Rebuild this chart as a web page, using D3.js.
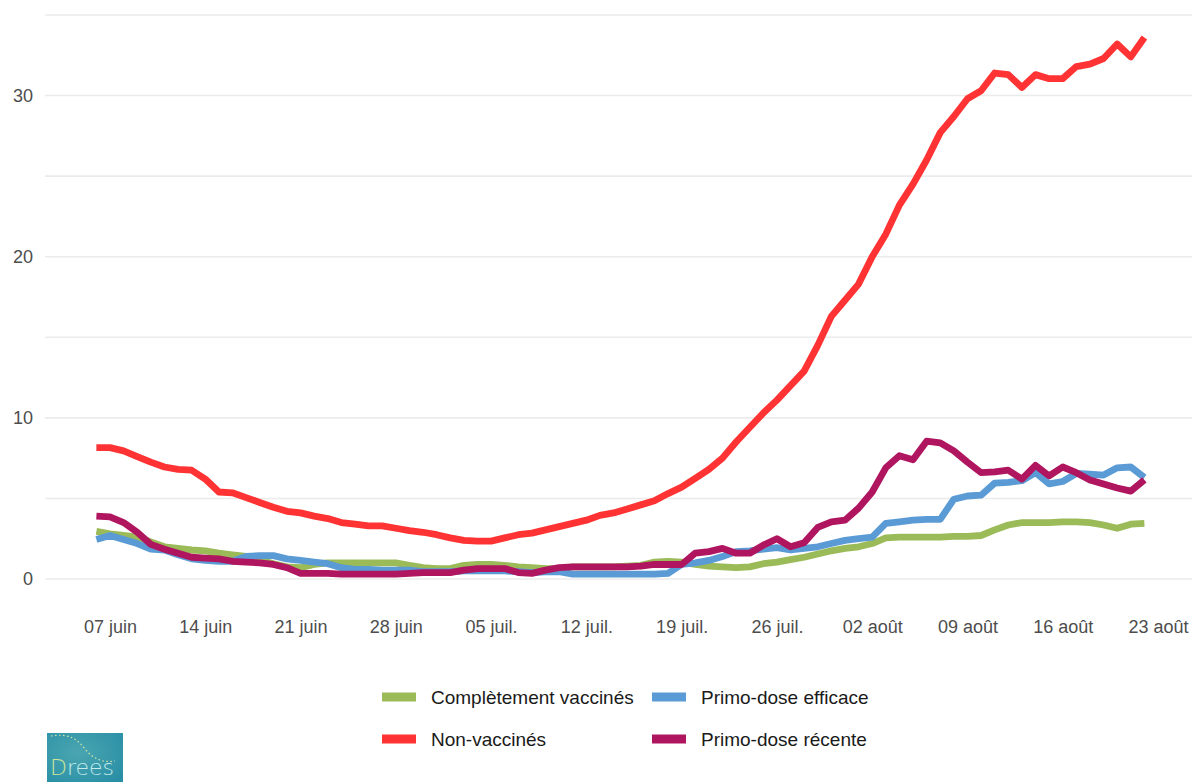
<!DOCTYPE html>
<html>
<head>
<meta charset="utf-8">
<script src="https://cdn.jsdelivr.net/npm/d3@7"></script>
<style>
  html, body { margin: 0; padding: 0; background: #fff; }
  svg { display: block; font-family: "Liberation Sans", Arial, sans-serif; }
</style>
</head>
<body>
<div id="chart"></div>
<script>
// daily values from 6 June to 22 August 2021
const firstDay = "2021-06-06";

const completementVaccines = [
  2.95, 2.8, 2.7, 2.6, 2.3, 2.0, 1.9, 1.8, 1.75, 1.6, 1.5, 1.4, 1.2, 0.95, 0.75, 0.7,
  0.9, 1.0, 1.0, 1.0, 1.0, 1.0, 1.0, 0.85, 0.7, 0.65, 0.65, 0.85, 0.9, 0.9, 0.85, 0.75,
  0.7, 0.65, 0.65, 0.75, 0.75, 0.75, 0.75, 0.8, 0.85, 1.05, 1.1, 1.05, 0.9, 0.8, 0.75,
  0.7, 0.75, 0.95, 1.05, 1.2, 1.35, 1.55, 1.75, 1.9, 2.0, 2.2, 2.55, 2.6, 2.6, 2.6, 2.6,
  2.65, 2.65, 2.7, 3.05, 3.35, 3.5, 3.5, 3.5, 3.55, 3.55, 3.5, 3.35, 3.15, 3.4, 3.45
];

const nonVaccines = [
  8.15, 8.15, 7.95, 7.6, 7.25, 6.95, 6.8, 6.75, 6.2, 5.4, 5.35, 5.05, 4.75, 4.45, 4.2,
  4.1, 3.9, 3.75, 3.5, 3.4, 3.3, 3.3, 3.15, 3.0, 2.9, 2.75, 2.55, 2.4, 2.35, 2.35, 2.55,
  2.75, 2.85, 3.05, 3.25, 3.45, 3.65, 3.95, 4.1, 4.35, 4.6, 4.85, 5.3, 5.7, 6.25, 6.8,
  7.5, 8.5, 9.4, 10.3, 11.1, 12.0, 12.9, 14.5, 16.3, 17.3, 18.3, 20.0, 21.4, 23.2, 24.5,
  26.0, 27.7, 28.7, 29.8, 30.3, 31.4, 31.3, 30.5, 31.3, 31.05, 31.05, 31.8, 31.95, 32.3,
  33.2, 32.4, 33.6
];

const primoDoseEfficace = [
  2.45, 2.7, 2.45, 2.2, 1.85, 1.8, 1.5, 1.25, 1.15, 1.1, 1.1, 1.4, 1.45, 1.45, 1.25, 1.15,
  1.05, 0.95, 0.7, 0.6, 0.6, 0.55, 0.55, 0.55, 0.45, 0.45, 0.45, 0.5, 0.5, 0.5, 0.5, 0.45,
  0.4, 0.45, 0.45, 0.3, 0.3, 0.3, 0.3, 0.3, 0.3, 0.3, 0.35, 0.9, 1.0, 1.15, 1.4, 1.7, 1.75,
  1.85, 1.95, 1.8, 1.9, 2.0, 2.2, 2.4, 2.5, 2.6, 3.45, 3.55, 3.65, 3.7, 3.7, 4.95, 5.15,
  5.2, 5.95, 6.0, 6.1, 6.6, 5.9, 6.05, 6.55, 6.5, 6.45, 6.9, 6.95, 6.3
];

const primoDoseRecente = [
  3.9, 3.85, 3.5, 2.9, 2.15, 1.85, 1.6, 1.35, 1.3, 1.25, 1.1, 1.05, 1.0, 0.9, 0.7, 0.35,
  0.35, 0.35, 0.3, 0.3, 0.3, 0.3, 0.3, 0.35, 0.4, 0.4, 0.4, 0.55, 0.65, 0.65, 0.65, 0.4,
  0.35, 0.55, 0.7, 0.75, 0.75, 0.75, 0.75, 0.75, 0.8, 0.9, 0.9, 0.9, 1.6, 1.7, 1.9, 1.6,
  1.6, 2.1, 2.5, 2.0, 2.25, 3.2, 3.55, 3.65, 4.4, 5.4, 6.9, 7.65, 7.4, 8.55, 8.45, 7.95,
  7.25, 6.6, 6.65, 6.75, 6.2, 7.05, 6.4, 6.95, 6.6, 6.15, 5.9, 5.65, 5.45, 6.15
];

const seriesNames = ["Complètement vaccinés", "Non-vaccinés", "Primo-dose efficace", "Primo-dose récente"];
const seriesColors = ["#9bbb59", "#ff3333", "#5b9bd5", "#b0155f"];

const xTickDates = ["2021-06-07", "2021-06-14", "2021-06-21", "2021-06-28", "2021-07-05", "2021-07-12",
  "2021-07-19", "2021-07-26", "2021-08-02", "2021-08-09", "2021-08-16", "2021-08-23"];
const xTickLabels = ["07 juin", "14 juin", "21 juin", "28 juin", "05 juil.", "12 juil.",
  "19 juil.", "26 juil.", "02 août", "09 août", "16 août", "23 août"];
const yTicks = [0, 10, 20, 30];
const yMinorTicks = [5, 15, 25, 35];

// ---- layout
const width = 1192, height = 782;
const panel = { left: 45, top: 15, bottom: 602 };

const parse = d3.utcParse("%Y-%m-%d");
const start = parse(firstDay);
const dates = nonVaccines.map((_, i) => d3.utcDay.offset(start, i));

const series = [completementVaccines, nonVaccines, primoDoseEfficace, primoDoseRecente]
  .map((values, i) => ({
    name: seriesNames[i],
    color: seriesColors[i],
    points: values.map((v, j) => ({ date: dates[j], value: v }))
  }));

const x = d3.scaleUtc()
  .domain([parse("2021-06-07"), parse("2021-08-23")])
  .range([110, 1158]);

const y = d3.scaleLinear()
  .domain([0, 35])
  .range([579, 15]);

const svg = d3.select("#chart")
  .append("svg")
  .attr("width", width)
  .attr("height", height);

// grid lines (ggplot style, no vertical ones)
svg.append("g")
  .selectAll("line")
  .data(yTicks.concat(yMinorTicks))
  .join("line")
  .attr("x1", panel.left)
  .attr("x2", width)
  .attr("y1", d => y(d))
  .attr("y2", d => y(d))
  .attr("stroke", "#ebebeb")
  .attr("stroke-width", 1.6);

// axes
const yAxis = svg.append("g")
  .attr("transform", `translate(${panel.left},0)`)
  .call(d3.axisLeft(y).tickValues(yTicks).tickSize(0).tickPadding(12));

const xAxis = svg.append("g")
  .attr("transform", `translate(0,${panel.bottom})`)
  .call(d3.axisBottom(x)
    .tickValues(xTickDates.map(parse))
    .tickFormat((d, i) => xTickLabels[i])
    .tickSize(0)
    .tickPadding(18));

[yAxis, xAxis].forEach(g => {
  g.select(".domain").remove();
  g.selectAll("text")
    .attr("fill", "#4d4d4d")
    .style("font-size", "18px")
    .style("font-family", "\"Liberation Sans\", Arial, sans-serif");
});

// lines
const line = d3.line()
  .x(d => x(d.date))
  .y(d => y(d.value));

svg.append("g")
  .selectAll("path")
  .data(series)
  .join("path")
  .attr("d", d => line(d.points))
  .attr("fill", "none")
  .attr("stroke", d => d.color)
  .attr("stroke-width", 6.8)
  .attr("stroke-linejoin", "round");

// legend, 2 rows filled by column
const legend = svg.append("g");
const legendItems = legend.selectAll("g")
  .data(series)
  .join("g")
  .attr("transform", (d, i) => `translate(${Math.floor(i / 2) === 0 ? 382 : 652},${i % 2 === 0 ? 697 : 739})`);

legendItems.append("rect")
  .attr("x", 0)
  .attr("y", -4.5)
  .attr("width", 34)
  .attr("height", 9)
  .attr("fill", d => d.color);

legendItems.append("text")
  .attr("x", 49)
  .attr("dy", "0.36em")
  .attr("fill", "#1a1a1a")
  .style("font-size", "19px")
  .text(d => d.name);

// Drees logo, bottom left
const defs = svg.append("defs");
const grad = defs.append("radialGradient")
  .attr("id", "dreesGrad")
  .attr("cx", "40%").attr("cy", "40%").attr("r", "75%");
grad.append("stop").attr("offset", "0%").attr("stop-color", "#4aa6b0");
grad.append("stop").attr("offset", "100%").attr("stop-color", "#2a8fa6");

const logo = svg.append("g").attr("transform", "translate(47,733)");
logo.append("rect")
  .attr("width", 76)
  .attr("height", 49)
  .attr("fill", "url(#dreesGrad)");
logo.append("path")
  .attr("d", "M4,3 C22,0 30,6 38,16 C46,26 56,30 68,28")
  .attr("fill", "none")
  .attr("stroke", "#d9e8a8")
  .attr("stroke-width", 1.2)
  .attr("stroke-dasharray", "1.5,2.5");
const logoText = logo.append("text")
  .attr("x", 3)
  .attr("y", 42)
  .style("font-family", "\"DejaVu Sans\", sans-serif")
  .style("font-size", "22px")
  .style("font-weight", "200");
logoText.append("tspan").attr("fill", "#cfe59a").text("D");
logoText.append("tspan").attr("fill", "#c4ecec").text("rees");
</script>
</body>
</html>
